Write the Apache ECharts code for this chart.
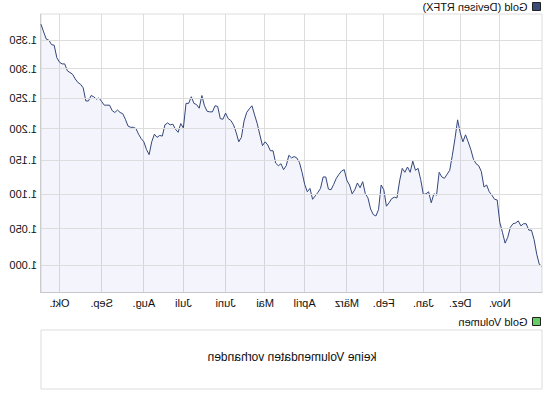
<!DOCTYPE html>
<html><head><meta charset="utf-8">
<script src="https://cdn.jsdelivr.net/npm/echarts@6/dist/echarts.min.js"></script>
<style>
html,body{margin:0;padding:0;overflow:hidden;background:#fff}
#chart{width:545px;height:398px;transform:scaleX(-1);transform-origin:center center;}
</style></head><body><div id="chart"></div>
<script>
// Gold price (EUR), one reading every ~2 days, oldest first
const values = [
 999,1001,1015,1035,1048,1048,1057,1057,1054,1061,
 1058,1057,1052,1038,1030,1045,1059,1091,1092,1098,
 1103,1113,1110,1133,1142,1145,1152,1167,1179,1190,
 1179,1193,1214,1184,1158,1135,1129,1123,1125,1132,
 1098,1100,1087,1103,1100,1099,1121,1138,1135,1149,
 1132,1140,1132,1138,1119,1094,1095,1093,1087,1082,
 1106,1113,1077,1068,1070,1078,1094,1100,1118,1109,
 1116,1106,1100,1113,1120,1136,1134,1129,1123,1114,
 1106,1107,1125,1125,1108,1102,1097,1092,1108,1103,
 1114,1132,1147,1154,1156,1154,1158,1142,1136,1145,
 1142,1146,1165,1165,1174,1179,1173,1190,1208,1222,
 1237,1232,1226,1212,1186,1179,1194,1206,1213,1216,
 1225,1215,1216,1236,1237,1227,1227,1228,1237,1254,
 1233,1239,1241,1252,1241,1241,1201,1208,1194,1199,
 1207,1206,1209,1206,1188,1189,1186,1191,1179,1159,
 1167,1179,1184,1191,1200,1202,1202,1204,1215,1224,
 1226,1230,1226,1229,1238,1238,1238,1244,1250,1248,
 1252,1254,1245,1245,1267,1273,1276,1282,1290,1293,
 1296,1308,1308,1311,1319,1341,1342,1350,1352,1365,
 1379
];
const monthLabels = ['Nov.','Dez.','Jan.','Feb.','März','April','Mai','Juni','Juli','Aug.','Sep.','Okt.'];
const monthStartIndex = [16,31,45,60,74,90,105,120,136,151,167,183];
const yTicks = [1000,1050,1100,1150,1200,1250,1300,1350];
const seriesName = 'Gold (Devisen RTFX)';
const volumeName = 'Gold Volumen';
const noVolumeText = 'keine Volumendaten vorhanden';

const categories = values.map((v, i) => String(i));
const isMonthStart = i => monthStartIndex.indexOf(i) >= 0;
const fmt = v => Math.floor(v / 1000) + '.' + String(v % 1000).padStart(3, '0');
const font = 'Arial, "Liberation Sans", sans-serif';
const textColor = '#111';

const chart = echarts.init(document.getElementById('chart'), null, {renderer: 'svg'});
chart.setOption({
  animation: false,
  textStyle: {fontFamily: font},
  legend: [
    {data: [seriesName], left: 4, top: 1, padding: 0, itemWidth: 8, itemHeight: 8, icon: 'rect',
     selectedMode: false, itemStyle: {borderColor: '#222', borderWidth: 1},
     textStyle: {fontSize: 11, color: textColor, fontFamily: font}},
    {data: [volumeName], left: 4, top: 316, padding: 0, itemWidth: 8, itemHeight: 8, icon: 'rect',
     selectedMode: false, itemStyle: {borderColor: '#222', borderWidth: 1},
     textStyle: {fontSize: 11, color: textColor, fontFamily: font}}
  ],
  title: {text: noVolumeText, left: 253, top: 351, textAlign: 'center', padding: 0,
    textStyle: {fontSize: 12, fontWeight: 'normal', color: textColor, fontFamily: font}},
  grid: [
    {left: 3, right: 41, top: 14, bottom: 105.5, show: true, borderColor: '#ddd', borderWidth: 1},
    {left: 3, right: 41, top: 330, bottom: 9, show: true, borderColor: '#ddd', borderWidth: 1}
  ],
  xAxis: [
    {type: 'category', gridIndex: 0, data: categories, boundaryGap: false,
     axisLine: {show: true, lineStyle: {color: '#ccc'}}, axisTick: {show: false},
     axisLabel: {interval: (i) => isMonthStart(i),
       formatter: (v, i) => { const k = monthStartIndex.indexOf(i); return k >= 0 ? monthLabels[k] : ''; },
       fontSize: 11, color: textColor, margin: 5, fontFamily: font},
     splitLine: {show: true, interval: (i) => isMonthStart(i), lineStyle: {color: '#ddd', width: 1}}},
    {type: 'category', gridIndex: 1, data: [], show: false}
  ],
  yAxis: [
    {type: 'log', gridIndex: 0, min: 964.4, max: 1398, position: 'right',
     axisLine: {show: true, lineStyle: {color: '#ccc'}}, axisTick: {show: false},
     axisLabel: {show: false}, splitLine: {show: false}},
    {type: 'value', gridIndex: 1, show: false}
  ],
  series: [
    {type: 'line', name: 'ticks', xAxisIndex: 0, yAxisIndex: 0, data: [], z: 1, silent: true,
     markLine: {silent: true, symbol: ['none', 'none'], animation: false,
       lineStyle: {color: '#ddd', width: 1, type: 'solid'},
       label: {position: 'end', distance: 4, formatter: p => fmt(p.value), color: textColor, fontSize: 11, fontFamily: font},
       emphasis: {disabled: true},
       data: yTicks.map(v => ({yAxis: v}))}},
    {type: 'line', name: seriesName, xAxisIndex: 0, yAxisIndex: 0, data: values, z: 3,
     symbol: 'none', showSymbol: false,
     lineStyle: {color: '#33467a', width: 1}, itemStyle: {color: '#3b4c78'},
     areaStyle: {color: 'rgba(60,90,200,0.085)', origin: 'start'}},
    {type: 'bar', name: volumeName, xAxisIndex: 1, yAxisIndex: 1, data: [], itemStyle: {color: '#66cc66'}}
  ]
});
</script>
</body></html>
